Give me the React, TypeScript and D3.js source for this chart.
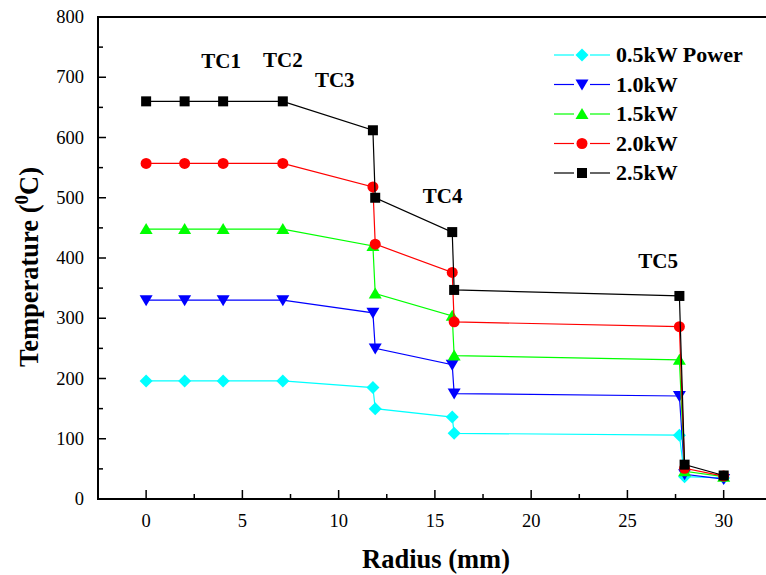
import { useRef, useEffect } from 'react';
import * as d3 from 'd3';

const radius = [0, 2, 4, 7.1, 11.78, 11.9, 15.9, 16.0, 27.7, 27.97, 30];

const power05 = [196, 196, 196, 196, 185, 150, 136, 109, 106, 37, 35];
const power10 = [330, 330, 330, 330, 309, 250, 223, 175, 171, 41, 33];
const power15 = [448, 448, 448, 448, 420, 341, 304, 238, 231, 46, 37];
const power20 = [557, 557, 557, 557, 518, 423, 376, 294, 286, 51, 38];
const power25 = [660, 660, 660, 660, 612, 500, 443, 347, 337, 57, 39];

const seriesNames = ['0.5kW Power', '1.0kW', '1.5kW', '2.0kW', '2.5kW'];
const seriesColors = ['#00ffff', '#0000ff', '#00ff00', '#ff0000', '#000000'];
const seriesSymbols = ['diamond', 'down', 'up', 'circle', 'square'];

const tcLabels = ['TC1', 'TC2', 'TC3', 'TC4', 'TC5'];
const tcX = [3.9, 7.1, 9.8, 15.4, 26.6];
const tcY = [715, 717, 683, 492, 383];

const yTicks = [0, 100, 200, 300, 400, 500, 600, 700, 800];
const xTicks = [0, 5, 10, 15, 20, 25, 30];

const FONT = 'Liberation Serif, DejaVu Serif, serif';

function drawMarker(g, kind, x, y, color) {
  if (kind === 'square') {
    g.append('rect').attr('x', x - 5).attr('y', y - 5).attr('width', 10).attr('height', 10).attr('fill', color);
  } else if (kind === 'circle') {
    g.append('circle').attr('cx', x).attr('cy', y).attr('r', 5.5).attr('fill', color);
  } else if (kind === 'up') {
    g.append('path').attr('d', `M${x},${y - 6}L${x + 6.5},${y + 5}L${x - 6.5},${y + 5}Z`).attr('fill', color);
  } else if (kind === 'down') {
    g.append('path').attr('d', `M${x},${y + 6}L${x + 6.5},${y - 5}L${x - 6.5},${y - 5}Z`).attr('fill', color);
  } else {
    g.append('path').attr('d', `M${x},${y - 6.5}L${x + 6.5},${y}L${x},${y + 6.5}L${x - 6.5},${y}Z`).attr('fill', color);
  }
}

export default function App() {
  const svgRef = useRef(null);

  useEffect(() => {
    const svg = d3.select(svgRef.current);
    svg.selectAll('*').remove();

    const xScale = d3.scaleLinear().domain([-2.5, 32.5]).range([98, 771.8]);
    const yScale = d3.scaleLinear().domain([0, 800]).range([499, 17]);

    const allSeries = [power05, power10, power15, power20, power25];

    // frame
    const frame = svg.append('g').attr('stroke', '#000').attr('stroke-width', 2);
    frame.append('line').attr('x1', 98).attr('x2', 780).attr('y1', 499).attr('y2', 499);
    frame.append('line').attr('x1', 98).attr('x2', 98).attr('y1', 17).attr('y2', 500);
    frame.append('line').attr('x1', 97).attr('x2', 780).attr('y1', 17).attr('y2', 17);

    // ticks, pointing inward
    const ticks = svg.append('g').attr('stroke', '#000').attr('stroke-width', 1.5);
    d3.range(0, 801, 50).forEach((v) => {
      const major = v % 100 === 0;
      ticks.append('line')
        .attr('x1', 98).attr('x2', 98 + (major ? 8 : 5))
        .attr('y1', yScale(v)).attr('y2', yScale(v));
    });
    d3.range(0, 32.6, 2.5).forEach((v) => {
      const major = v % 5 === 0;
      ticks.append('line')
        .attr('x1', xScale(v)).attr('x2', xScale(v))
        .attr('y1', 499).attr('y2', 499 - (major ? 9 : 5));
    });

    svg.append('g').selectAll('text').data(yTicks).join('text')
      .attr('x', 84).attr('y', (d) => yScale(d) + 6)
      .attr('text-anchor', 'end')
      .style('font-family', FONT).attr('font-size', 18.5)
      .text((d) => d);

    svg.append('g').selectAll('text').data(xTicks).join('text')
      .attr('x', (d) => xScale(d)).attr('y', 527)
      .attr('text-anchor', 'middle')
      .style('font-family', FONT).attr('font-size', 18.5)
      .text((d) => d);

    // axis titles
    svg.append('text')
      .attr('x', 436).attr('y', 568)
      .attr('text-anchor', 'middle')
      .style('font-family', FONT).attr('font-size', 26.5).attr('font-weight', 'bold')
      .text('Radius (mm)');

    const yt = svg.append('text')
      .attr('transform', 'translate(38,267) rotate(-90)')
      .attr('text-anchor', 'middle')
      .style('font-family', FONT).attr('font-size', 26.5).attr('font-weight', 'bold');
    yt.append('tspan').text('Temperature (');
    yt.append('tspan').attr('dy', -10).attr('font-size', 19).text('0');
    yt.append('tspan').attr('dy', 10).text('C)');

    // series
    const line = d3.line().x((d) => xScale(d[0])).y((d) => yScale(d[1]));
    allSeries.forEach((vals, i) => {
      const pts = radius.map((r, j) => [r, vals[j]]);
      const g = svg.append('g');
      g.append('path').datum(pts).attr('d', line)
        .attr('fill', 'none').attr('stroke', seriesColors[i]).attr('stroke-width', 1.2);
      pts.forEach((p) => drawMarker(g, seriesSymbols[i], xScale(p[0]), yScale(p[1]), seriesColors[i]));
    });

    // TC labels
    svg.append('g').selectAll('text').data(tcLabels).join('text')
      .attr('x', (d, i) => xScale(tcX[i])).attr('y', (d, i) => yScale(tcY[i]))
      .attr('text-anchor', 'middle')
      .style('font-family', FONT).attr('font-size', 21).attr('font-weight', 'bold')
      .text((d) => d);

    // legend
    const legend = svg.append('g');
    seriesNames.forEach((name, i) => {
      const y = 55 + i * 29.5;
      const color = seriesColors[i];
      legend.append('line').attr('x1', 554).attr('x2', 574).attr('y1', y).attr('y2', y)
        .attr('stroke', color).attr('stroke-width', 1.2);
      legend.append('line').attr('x1', 590).attr('x2', 610).attr('y1', y).attr('y2', y)
        .attr('stroke', color).attr('stroke-width', 1.2);
      drawMarker(legend, seriesSymbols[i], 582, y, color);
      legend.append('text')
        .attr('x', 616).attr('y', y + 7)
        .style('font-family', FONT).attr('font-size', 22).attr('font-weight', 'bold')
        .text(name);
    });
  }, []);

  return (
    <div style={{ position: 'fixed', left: 0, top: 0, background: '#fff' }}>
      <svg ref={svgRef} width={766} height={575} />
    </div>
  );
}
